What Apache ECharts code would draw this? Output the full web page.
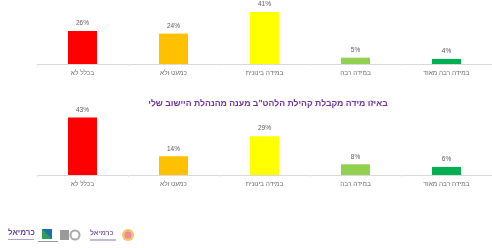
<!DOCTYPE html>
<html>
<head>
<meta charset="UTF-8">
<script src="https://cdn.jsdelivr.net/npm/echarts@6/dist/echarts.min.js"></script>
<style>
*{margin:0;padding:0;}
#main{width:492px;height:248px;background:#fff;}
</style>
</head>
<body>
<div id="main"></div>
<script>
var categories = ['בכלל לא', 'כמעט ולא', 'במידה בינונית', 'במידה רבה', 'במידה רבה מאוד'];
var topValues = [26, 24, 41, 5, 4];
var bottomValues = [43, 14, 29, 8, 6];
var barColors = ['#FF0000', '#FFC000', '#FFFF00', '#92D050', '#00B050'];
var bottomTitle = 'באיזו מידה מקבלת קהילת הלהט"ב מענה מהנהלת היישוב שלי';

function makeData(vals) {
    return vals.map(function (v, i) {
        return {value: v, itemStyle: {color: barColors[i]}};
    });
}

function xAxisFor(idx) {
    return {
        type: 'category',
        gridIndex: idx,
        data: categories,
        axisLine: {lineStyle: {color: '#d9d9d9', width: 1}},
        axisTick: {show: true, length: 2, lineStyle: {color: '#e6e6e6'}},
        axisLabel: {color: '#6b6b6b', fontSize: 6.5, fontFamily: 'Liberation Sans', margin: 6}
    };
}

function yAxisFor(idx) {
    return {
        type: 'value', gridIndex: idx, min: 0, max: 50,
        show: false, splitLine: {show: false}
    };
}

function seriesFor(idx, vals) {
    return {
        type: 'bar',
        xAxisIndex: idx,
        yAxisIndex: idx,
        barWidth: 29,
        data: makeData(vals),
        label: {
            show: true, position: 'top', distance: 4,
            formatter: '{c}%', color: '#595959', fontSize: 6.5, fontFamily: 'Liberation Sans'
        }
    };
}

var myChart = echarts.init(document.getElementById('main'));
var option = {
    animation: false,
    title: {
        text: bottomTitle,
        left: 263, top: 94, textAlign: 'center',
        textStyle: {color: '#7030A0', fontSize: 8.7, fontWeight: 'bold', fontFamily: 'Liberation Sans'}
    },
    grid: [
        {left: 37, width: 458, top: 0.6, height: 63.4},
        {left: 37, width: 458, top: 108, height: 67}
    ],
    xAxis: [xAxisFor(0), xAxisFor(1)],
    yAxis: [yAxisFor(0), yAxisFor(1)],
    series: [seriesFor(0, topValues), seriesFor(1, bottomValues)],
    graphic: [
        {type: 'text', left: 8, top: 229, style: {text: 'כרמיאל', fill: '#6a3d9a', font: 'bold 8px Liberation Sans'}},
        {type: 'rect', left: 8, top: 239, shape: {width: 26, height: 1}, style: {fill: '#b0a0c8'}},
        {type: 'polygon', shape: {points: [[42, 229], [52, 229], [52, 239], [42, 239]]}, style: {fill: '#1c6fa8'}},
        {type: 'polygon', shape: {points: [[42, 229], [52, 239], [42, 239]]}, style: {fill: '#2ca05a'}},
        {type: 'rect', left: 38, top: 241, shape: {width: 20, height: 1}, style: {fill: '#999'}},
        {type: 'rect', left: 60, top: 230, shape: {width: 9, height: 10}, style: {fill: '#9a9a9a'}},
        {type: 'circle', shape: {cx: 75, cy: 235, r: 4.5}, style: {fill: '#fff', stroke: '#aaa', lineWidth: 2}},
        {type: 'text', left: 90, top: 230, style: {text: 'כרמיאל', fill: '#7a5aa8', font: 'bold 7px Liberation Sans'}},
        {type: 'rect', left: 90, top: 239, shape: {width: 26, height: 2}, style: {fill: '#c8b8d8'}},
        {type: 'circle', shape: {cx: 128, cy: 235, r: 6}, style: {fill: '#f6c26a'}},
        {type: 'circle', shape: {cx: 128, cy: 235, r: 3.5}, style: {fill: '#e88aa0'}}
    ]
};
myChart.setOption(option);
</script>
</body>
</html>
